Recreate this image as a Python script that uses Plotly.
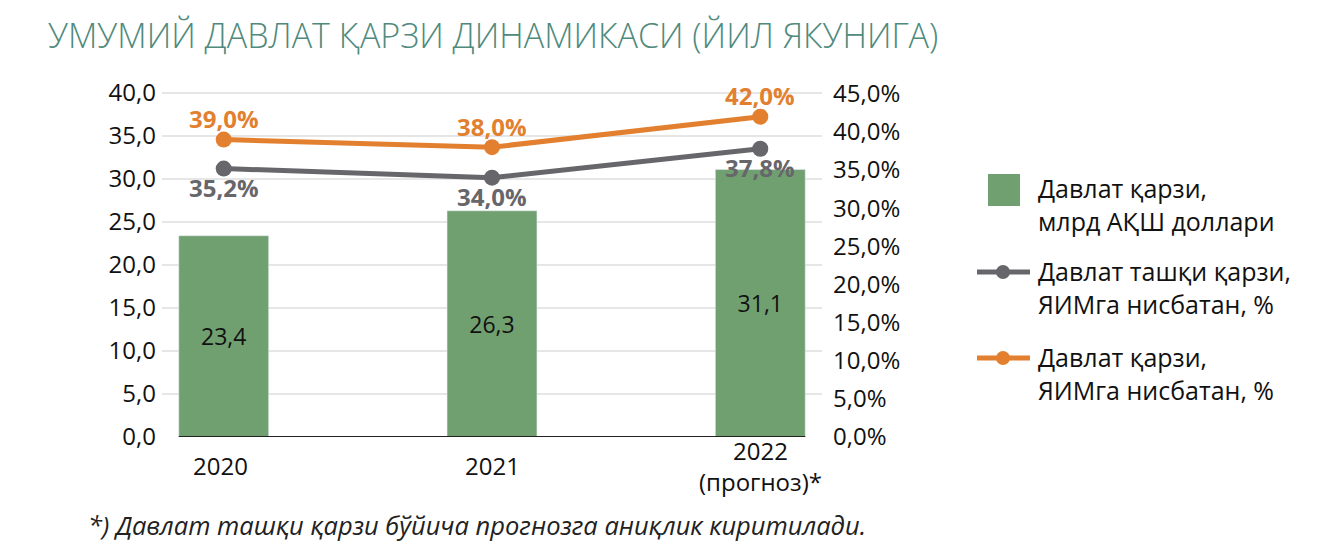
import plotly.graph_objects as go

# data
years = [0, 1, 2]
year_labels = ['2020', '2021', '2022<br>(прогноз)*']
debt_bln = [23.4, 26.3, 31.1]
ext_debt_pct = [35.2, 34.0, 37.8]
debt_pct = [39.0, 38.0, 42.0]

names = ['Давлат қарзи,<br>млрд АҚШ доллари',
         'Давлат ташқи қарзи,<br>ЯИМга нисбатан, %',
         'Давлат қарзи,<br>ЯИМга нисбатан, %']

GREEN = '#71a070'
GRAY = '#67666b'
ORANGE = '#e2802f'
FONT = 'Open Sans'

# the page body has an 8px margin, so the figure is a bit smaller
OFF = 8
W, H = 1342 - OFF, 560 - OFF
# plot area in reference pixels
L, R, T, B = 162, 822, 90, 437
BAR_W = 0.335


def px_x(x):
  return (x - L) / (R - L)


def px_y(y):
  return (B - y) / (B - T)


def fmt(v, pct=False):
  s = f'{v:.1f}'.replace('.', ',')
  return s + '%' if pct else s


fig = go.Figure()

fig.add_trace(go.Bar(
  x=years, y=debt_bln, width=BAR_W, marker_color=GREEN,
  text=[fmt(v) for v in debt_bln], textposition='inside',
  insidetextanchor='middle', textangle=0,
  textfont=dict(family=FONT, size=23, color='#111111'),
  name=names[0], showlegend=False, cliponaxis=False,
))

fig.add_trace(go.Scatter(
  x=years, y=ext_debt_pct, yaxis='y2', mode='lines+markers',
  line=dict(color=GRAY, width=5), marker=dict(size=16, color=GRAY),
  name=names[1], showlegend=False, cliponaxis=False,
))

fig.add_trace(go.Scatter(
  x=years, y=debt_pct, yaxis='y2', mode='lines+markers',
  line=dict(color=ORANGE, width=5), marker=dict(size=16, color=ORANGE),
  name=names[2], showlegend=False, cliponaxis=False,
))

shapes = []
annotations = []

# point labels
for x, v in zip(years, ext_debt_pct):
  annotations.append(dict(x=x, y=v, xref='x', yref='y2', text=fmt(v, True),
                          showarrow=False, yanchor='middle', yshift=-19,
                          font=dict(family=FONT, size=24, color=GRAY, weight='bold')))
for x, v in zip(years, debt_pct):
  annotations.append(dict(x=x, y=v, xref='x', yref='y2', text=fmt(v, True),
                          showarrow=False, yanchor='middle', yshift=21,
                          font=dict(family=FONT, size=24, color=ORANGE, weight='bold')))

# axis line spanning the bars only
shapes.append(dict(type='line', xref='x', yref='y', x0=-BAR_W / 2, x1=2 + BAR_W / 2,
                   y0=0, y1=0, line=dict(color='#222222', width=2)))

# category labels, centered vertically like the original
for x, lab in zip(years, year_labels):
  annotations.append(dict(x=x, xref='x', y=px_y(466), yref='paper', text=lab,
                          showarrow=False, yanchor='middle', xshift=-3 if x == 0 else 0,
                          font=dict(family=FONT, size=24, color='#111111')))

# hand-made legend on the right
leg_y = [204, 287, 373]
shapes.append(dict(type='rect', xref='paper', yref='paper',
                   x0=px_x(988), x1=px_x(1020), y0=px_y(206), y1=px_y(174),
                   fillcolor=GREEN, line_width=0))
for yy, col in [(272, GRAY), (358, ORANGE)]:
  shapes.append(dict(type='line', xref='paper', yref='paper',
                     x0=px_x(977), x1=px_x(1030), y0=px_y(yy), y1=px_y(yy),
                     line=dict(color=col, width=5)))
  shapes.append(dict(type='circle', xref='paper', yref='paper',
                     xsizemode='pixel', ysizemode='pixel',
                     xanchor=px_x(1003), yanchor=px_y(yy),
                     x0=-7, x1=7, y0=-7, y1=7, fillcolor=col, line_width=0))
for yy, name in zip(leg_y, names):
  annotations.append(dict(x=px_x(1036), xref='paper', y=px_y(yy), yref='paper',
                          text=name, showarrow=False, xanchor='left', yanchor='middle',
                          align='left', font=dict(family=FONT, size=25, color='#111111')))

# footnote
annotations.append(dict(x=px_x(86), xref='paper', y=px_y(525), yref='paper',
                        text='*) Давлат ташқи қарзи бўйича прогнозга аниқлик киритилади.',
                        showarrow=False, xanchor='left', yanchor='middle',
                        font=dict(family=FONT, size=25.5, color='#222222', style='italic')))

fig.update_layout(
  width=W, height=H,
  margin=dict(l=L - OFF, r=1342 - R, t=T - OFF, b=560 - B, pad=0),
  paper_bgcolor='white', plot_bgcolor='white',
  separators=', ',
  title=dict(text='УМУМИЙ ДАВЛАТ ҚАРЗИ ДИНАМИКАСИ (ЙИЛ ЯКУНИГА)',
             x=(48 - OFF) / W, xanchor='left', y=1 - (36 - OFF) / H, yanchor='middle',
             font=dict(family=FONT, size=34, color='#4f8a7d', weight=300)),
  xaxis=dict(range=[-0.23, 2.23], showticklabels=False, showgrid=False,
             zeroline=False, showline=False, fixedrange=True),
  yaxis=dict(range=[0, 40.35], dtick=5, tickformat='.1f', showgrid=True,
             gridcolor='#e6e6e6', gridwidth=1.5, zeroline=False, showline=False,
             ticks='', ticklabelstandoff=5,
             tickfont=dict(family=FONT, size=24, color='#111111')),
  yaxis2=dict(range=[0, 45.5], dtick=5, tickformat='.1f', ticksuffix='%',
              overlaying='y', side='right', showgrid=False, zeroline=False,
              showline=False, ticks='', ticklabelstandoff=10,
              tickfont=dict(family=FONT, size=24, color='#111111')),
  shapes=shapes, annotations=annotations,
)

fig.write_html('out.html')
